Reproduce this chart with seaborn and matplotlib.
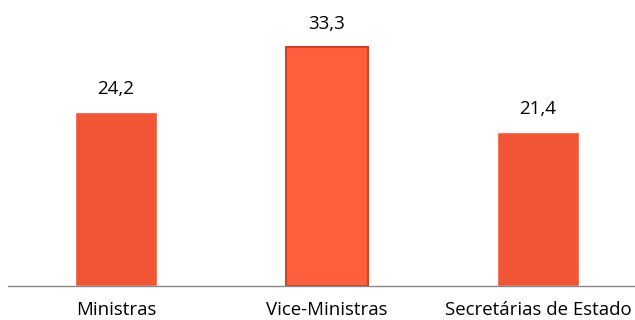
import matplotlib
matplotlib.use('Agg')
import matplotlib.pyplot as plt
import seaborn as sns
import pandas as pd

categories = ['Ministras', 'Vice-Ministras', 'Secretárias de Estado']
values = [24.2, 33.3, 21.4]
bar_colors = ['#F05535', '#FF5F3C', '#F05535']

sns.set_style('white')
plt.rcParams['font.family'] = ['Open Sans', 'DejaVu Sans']
plt.rcParams['text.color'] = 'black'
plt.rcParams['xtick.color'] = 'black'

df = pd.DataFrame({'cat': categories, 'val': values})

fig = plt.figure(figsize=(6.35, 3.2), dpi=100)
ax = fig.add_axes([8 / 635, 34 / 320, 627 / 635, 286 / 320])
sns.barplot(data=df, x='cat', y='val', hue='cat', palette=bar_colors,
            width=0.39, legend=False, ax=ax, saturation=1)

# middle bar has a bevelled look in the original
ax.patches[1].set_edgecolor('#C9452A')
ax.patches[1].set_linewidth(1.5)

for i, v in enumerate(values):
    ax.annotate(f'{v:.1f}'.replace('.', ','), (i, v), xytext=(0, 13),
                textcoords='offset points', ha='center', va='baseline',
                fontsize=13.5, color='black')

ax.set_xlim(-0.512, 2.46)
ax.set_ylim(0, 39.8)
ax.set_yticks([])
ax.set_xlabel('')
ax.set_ylabel('')
ax.tick_params(axis='x', length=0, pad=10.5, labelsize=13.4, labelcolor='black')
for s in ['top', 'left', 'right']:
    ax.spines[s].set_visible(False)
ax.spines['bottom'].set_color('#888888')
ax.spines['bottom'].set_linewidth(1)

fig.savefig('out.png', dpi=100)
